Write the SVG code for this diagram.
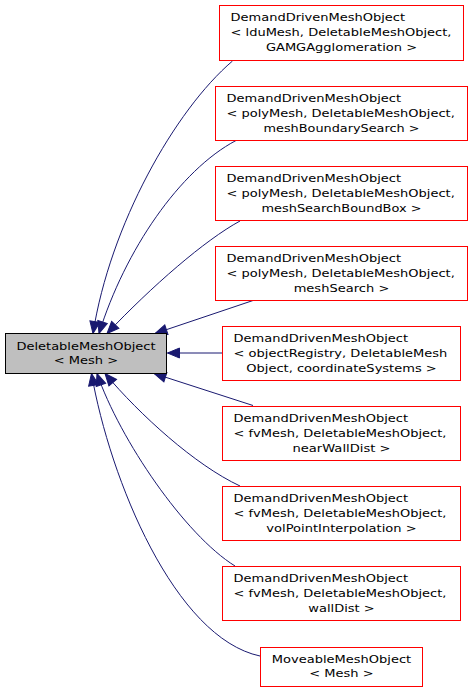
<svg xmlns="http://www.w3.org/2000/svg" width="473" height="693" viewBox="0 0 473 693">
<style>
text { font-family: "DejaVu Sans", "Liberation Sans", sans-serif; font-size: 11px; fill: #000000; }
.m { text-anchor: middle; }
.s { text-anchor: start; }
.node rect { fill: #ffffff; stroke: #ff0000; stroke-width: 1; }
#n0 rect { fill: #bfbfbf; stroke: #000000; }
.edge { fill: none; stroke: #191970; stroke-width: 1; marker-end: url(#arr); }
</style>
<defs>
<marker id="arr" markerUnits="userSpaceOnUse" viewBox="-1 -1 14 12" markerWidth="14" markerHeight="12" refX="12" refY="5" orient="auto">
<path d="M0,0 L12,5 L0,10 Z" fill="#191970" stroke="#191970" stroke-width="1"/>
</marker>
</defs>
<rect x="0" y="0" width="473" height="693" fill="#ffffff"/>

<g id="edges">
<path class="edge" d="M232.5,61 C175,110 110,225 93,333.5"/>
<path class="edge" d="M236,140.5 C180,170 125,250 99,333.5"/>
<path class="edge" d="M240,221 C205,240 152,286 107,333.5"/>
<path class="edge" d="M253,300.5 L155,333.5"/>
<path class="edge" d="M222,353 L167.5,353"/>
<path class="edge" d="M253,405.5 L154,373.5"/>
<path class="edge" d="M240,486 C195,465 140,415 105,373.5"/>
<path class="edge" d="M235,566 C185,535 120,440 97,373.5"/>
<path class="edge" d="M260,656 C175,638 110,480 91.5,373.5"/>
</g>

<g id="n0" class="node">
<rect x="5.5" y="333.5" width="161" height="40"/>
<text class="m" x="86" y="349.5" textLength="139.1" lengthAdjust="spacingAndGlyphs">DeletableMeshObject</text>
<text class="m" x="86" y="363.5" textLength="64.3" lengthAdjust="spacingAndGlyphs">&lt; Mesh &gt;</text>
</g>

<g id="n1" class="node">
<rect x="219.5" y="5.5" width="244" height="55"/>
<text class="s" x="230.5" y="20.5" textLength="174.6" lengthAdjust="spacingAndGlyphs">DemandDrivenMeshObject</text>
<text class="s" x="230.5" y="35.5" textLength="220.9" lengthAdjust="spacingAndGlyphs">&lt; lduMesh, DeletableMeshObject,</text>
<text class="m" x="341.5" y="50.5" textLength="151.1" lengthAdjust="spacingAndGlyphs">GAMGAgglomeration &gt;</text>
</g>

<g id="n2" class="node">
<rect x="215.5" y="86.5" width="252" height="54"/>
<text class="s" x="226.5" y="101.5" textLength="174.6" lengthAdjust="spacingAndGlyphs">DemandDrivenMeshObject</text>
<text class="s" x="226.5" y="116.5" textLength="228.3" lengthAdjust="spacingAndGlyphs">&lt; polyMesh, DeletableMeshObject,</text>
<text class="m" x="341.5" y="131.5" textLength="156" lengthAdjust="spacingAndGlyphs">meshBoundarySearch &gt;</text>
</g>

<g id="n3" class="node">
<rect x="215.5" y="166.5" width="252" height="54"/>
<text class="s" x="226.5" y="181.5" textLength="174.6" lengthAdjust="spacingAndGlyphs">DemandDrivenMeshObject</text>
<text class="s" x="226.5" y="196.5" textLength="228.3" lengthAdjust="spacingAndGlyphs">&lt; polyMesh, DeletableMeshObject,</text>
<text class="m" x="341.5" y="211.5" textLength="160" lengthAdjust="spacingAndGlyphs">meshSearchBoundBox &gt;</text>
</g>

<g id="n4" class="node">
<rect x="215.5" y="246.5" width="252" height="54"/>
<text class="s" x="226.5" y="261.5" textLength="174.6" lengthAdjust="spacingAndGlyphs">DemandDrivenMeshObject</text>
<text class="s" x="226.5" y="276.5" textLength="228.3" lengthAdjust="spacingAndGlyphs">&lt; polyMesh, DeletableMeshObject,</text>
<text class="m" x="341.5" y="291.5" textLength="95.7" lengthAdjust="spacingAndGlyphs">meshSearch &gt;</text>
</g>

<g id="n5" class="node">
<rect x="222.5" y="326.5" width="238" height="54"/>
<text class="s" x="233.5" y="341.5" textLength="174.6" lengthAdjust="spacingAndGlyphs">DemandDrivenMeshObject</text>
<text class="s" x="233.5" y="356.5" textLength="213.9" lengthAdjust="spacingAndGlyphs">&lt; objectRegistry, DeletableMesh</text>
<text class="m" x="341.5" y="371.5" textLength="190.5" lengthAdjust="spacingAndGlyphs">Object, coordinateSystems &gt;</text>
</g>

<g id="n6" class="node">
<rect x="222.5" y="406.5" width="238" height="54"/>
<text class="s" x="233.5" y="421.5" textLength="174.6" lengthAdjust="spacingAndGlyphs">DemandDrivenMeshObject</text>
<text class="s" x="233.5" y="436.5" textLength="213" lengthAdjust="spacingAndGlyphs">&lt; fvMesh, DeletableMeshObject,</text>
<text class="m" x="341.5" y="451.5" textLength="98.1" lengthAdjust="spacingAndGlyphs">nearWallDist &gt;</text>
</g>

<g id="n7" class="node">
<rect x="222.5" y="486.5" width="238" height="54"/>
<text class="s" x="233.5" y="501.5" textLength="174.6" lengthAdjust="spacingAndGlyphs">DemandDrivenMeshObject</text>
<text class="s" x="233.5" y="516.5" textLength="213" lengthAdjust="spacingAndGlyphs">&lt; fvMesh, DeletableMeshObject,</text>
<text class="m" x="341.5" y="531.5" textLength="150.3" lengthAdjust="spacingAndGlyphs">volPointInterpolation &gt;</text>
</g>

<g id="n8" class="node">
<rect x="222.5" y="566.5" width="238" height="54"/>
<text class="s" x="233.5" y="581.5" textLength="174.6" lengthAdjust="spacingAndGlyphs">DemandDrivenMeshObject</text>
<text class="s" x="233.5" y="596.5" textLength="213" lengthAdjust="spacingAndGlyphs">&lt; fvMesh, DeletableMeshObject,</text>
<text class="m" x="341.5" y="611.5" textLength="66.4" lengthAdjust="spacingAndGlyphs">wallDist &gt;</text>
</g>

<g id="n9" class="node">
<rect x="260.5" y="647.5" width="162" height="39"/>
<text class="m" x="341.5" y="662.5" textLength="139.3" lengthAdjust="spacingAndGlyphs">MoveableMeshObject</text>
<text class="m" x="341.5" y="677" textLength="64.3" lengthAdjust="spacingAndGlyphs">&lt; Mesh &gt;</text>
</g>
</svg>
